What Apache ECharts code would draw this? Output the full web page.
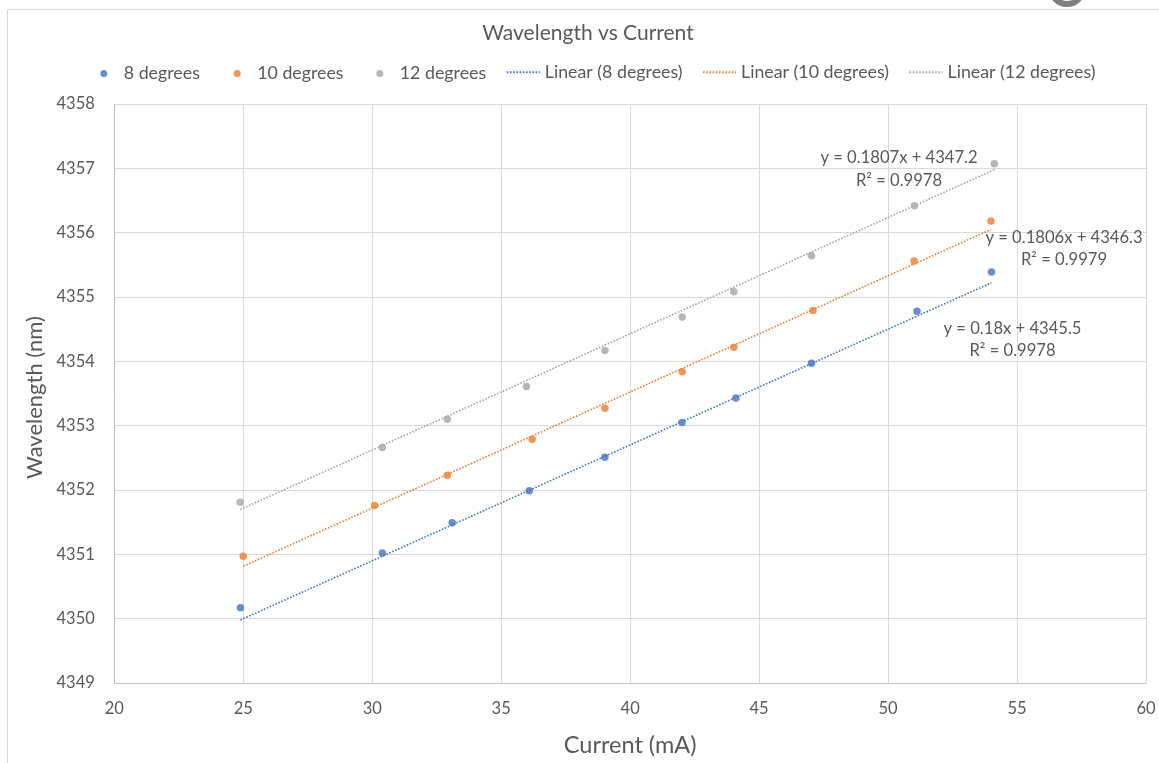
<!DOCTYPE html>
<html>
<head>
<meta charset="utf-8">
<title>Wavelength vs Current</title>
<script src="https://cdn.jsdelivr.net/npm/echarts@6/dist/echarts.min.js"></script>
<style>
  html, body { margin: 0; padding: 0; background: #ffffff; }
  #chart { width: 1159px; height: 763px; }
</style>
</head>
<body>
<div id="chart"></div>
<script>
// Measured points: current (mA) and wavelength (nm) per temperature
const seriesNames = ['8 degrees', '10 degrees', '12 degrees'];
const colors = ['#4472C4', '#ED7D31', '#A5A5A5'];

const current8 = [24.89, 30.39, 33.10, 36.09, 39.02, 42.01, 44.10, 47.03, 51.12, 54.01];
const wave8    = [4350.17, 4351.02, 4351.49, 4351.99, 4352.51, 4353.05, 4353.43, 4353.97, 4354.78, 4355.39];

const current10 = [25.00, 30.09, 32.91, 36.20, 39.02, 42.02, 44.02, 47.09, 51.01, 53.99];
const wave10    = [4350.97, 4351.76, 4352.23, 4352.79, 4353.27, 4353.84, 4354.22, 4354.79, 4355.56, 4356.18];

const current12 = [24.88, 30.39, 32.91, 35.98, 39.02, 42.02, 44.02, 47.03, 51.02, 54.12];
const wave12    = [4351.81, 4352.66, 4353.10, 4353.61, 4354.17, 4354.69, 4355.08, 4355.64, 4356.42, 4357.07];

// Linear trendline coefficients and fit quality, as printed on the chart
const slopes     = [0.18, 0.1806, 0.1807];
const intercepts = [4345.5, 4346.3, 4347.2];
const rSquared   = ['0.9978', '0.9979', '0.9978'];

// Axis ticks
const xTicks = [20, 25, 30, 35, 40, 45, 50, 55, 60];
const yTicks = [4349, 4350, 4351, 4352, 4353, 4354, 4355, 4356, 4357, 4358];

const FONT = 'Lato, "Open Sans", sans-serif';
const TEXT = '#595959';

const currents = [current8, current10, current12];
const waves = [wave8, wave10, wave12];

const series = [];
seriesNames.forEach((name, i) => {
  series.push({
    name: name,
    type: 'scatter',
    symbol: 'circle',
    symbolSize: 7.5,
    itemStyle: { color: colors[i] },
    data: currents[i].map((x, k) => [x, waves[i][k]]),
    z: 3
  });
});
seriesNames.forEach((name, i) => {
  const xs = currents[i];
  const x0 = Math.min.apply(null, xs), x1 = Math.max.apply(null, xs);
  series.push({
    name: 'Linear (' + name + ')',
    type: 'line',
    symbol: 'none',
    showSymbol: false,
    silent: true,
    lineStyle: { color: colors[i], width: 1.6, type: [1.6, 1.6] },
    itemStyle: { color: colors[i] },
    data: [[x0, slopes[i] * x0 + intercepts[i]], [x1, slopes[i] * x1 + intercepts[i]]],
    z: 2
  });
});

// One legend block per entry so each sits where it belongs in the row
const legendTextStyle = { color: TEXT, fontFamily: FONT, fontSize: 17.8 };
const scatterLegendLeft = [100.3, 233.7, 376.3];
const lineLegendLeft = [505.8, 702, 908.5];
const legends = [];
seriesNames.forEach((name, i) => {
  legends.push({
    data: [{ name: name, icon: 'circle' }],
    left: scatterLegendLeft[i], top: 64.5, padding: 0,
    itemWidth: 30, itemHeight: 7, symbolKeepAspect: true,
    textStyle: legendTextStyle, selectedMode: false
  });
});
seriesNames.forEach((name, i) => {
  legends.push({
    data: ['Linear (' + name + ')'],
    left: lineLegendLeft[i], top: 63.2, padding: 0,
    itemWidth: 33, itemHeight: 14,
    itemStyle: { opacity: 0 },
    lineStyle: { opacity: 1 },
    textStyle: legendTextStyle, selectedMode: false
  });
});

// Trendline equation labels
const eqPos = [
  { x: 1012.5, y1: 329, y2: 351 },
  { x: 1064,   y1: 238, y2: 260 },
  { x: 899,    y1: 158, y2: 181 }
];
const eqText = [];
seriesNames.forEach((name, i) => {
  const p = eqPos[i];
  eqText.push({
    type: 'text', x: p.x, y: p.y1, z: 10,
    style: { text: 'y = ' + slopes[i] + 'x + ' + intercepts[i], fill: TEXT, font: '16.6px ' + FONT, align: 'center', verticalAlign: 'middle' }
  });
  eqText.push({
    type: 'text', x: p.x, y: p.y2, z: 10,
    style: { text: 'R\u00B2 = ' + rSquared[i], fill: TEXT, font: '16.6px ' + FONT, align: 'center', verticalAlign: 'middle' }
  });
});

const chart = echarts.init(document.getElementById('chart'), null, { renderer: 'canvas' });
chart.setOption({
  backgroundColor: '#ffffff',
  animation: false,
  title: {
    text: 'Wavelength vs Current',
    left: 588, top: 33, textAlign: 'center', textVerticalAlign: 'middle', padding: 0,
    textStyle: { color: TEXT, fontFamily: FONT, fontSize: 21, fontWeight: 'normal' }
  },
  legend: legends,
  grid: { left: 114.3, right: 13, top: 104, bottom: 80, containLabel: false },
  xAxis: {
    type: 'value', min: xTicks[0], max: xTicks[xTicks.length - 1], interval: 5,
    name: 'Current (mA)', nameLocation: 'middle', nameGap: 50,
    nameTextStyle: { color: TEXT, fontFamily: FONT, fontSize: 23.5 },
    axisLine: { show: true, lineStyle: { color: '#BFBFBF', width: 1 } },
    axisTick: { show: false },
    axisLabel: { color: TEXT, fontFamily: FONT, fontSize: 16.5, margin: 17.5 },
    splitLine: { show: true, lineStyle: { color: '#D9D9D9', width: 1 } }
  },
  yAxis: {
    type: 'value', min: yTicks[0], max: yTicks[yTicks.length - 1], interval: 1,
    name: 'Wavelength (nm)', nameLocation: 'middle', nameGap: 68, nameRotate: 90,
    nameTextStyle: { color: TEXT, fontFamily: FONT, fontSize: 22, padding: [0, 8, 0, 0] },
    axisLine: { show: true, lineStyle: { color: '#BFBFBF', width: 1 } },
    axisTick: { show: false },
    axisLabel: { color: TEXT, fontFamily: FONT, fontSize: 16.5, margin: 19.5, formatter: v => String(v) },
    splitLine: { show: true, lineStyle: { color: '#D9D9D9', width: 1 } }
  },
  series: series,
  graphic: [
    {
      type: 'rect', z: -1, silent: true,
      shape: { x: 7.5, y: 9.5, width: 1300, height: 900 },
      style: { fill: 'none', stroke: '#D9D9D9', lineWidth: 1 }
    },
    {
      type: 'circle', silent: true, z: 20,
      shape: { cx: 1067, cy: -12, r: 16 },
      style: { fill: '#ffffff', stroke: '#7F7F7F', lineWidth: 6 }
    }
  ].concat(eqText)
});
</script>
</body>
</html>
